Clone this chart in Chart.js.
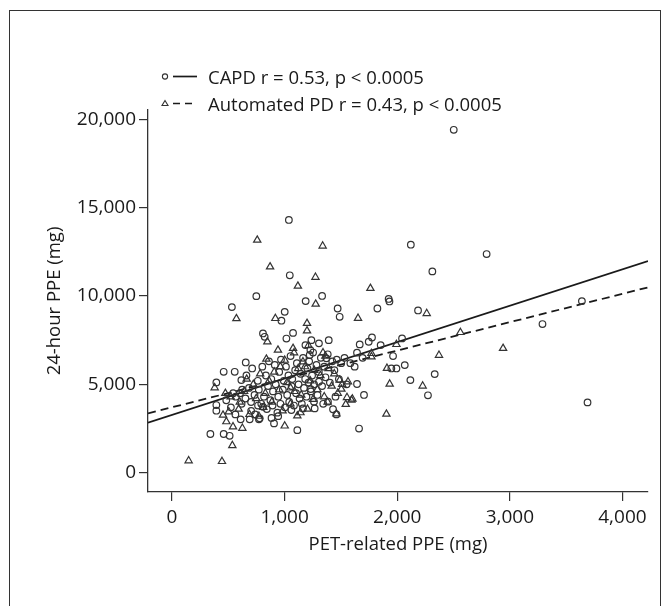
<!DOCTYPE html>
<html>
<head>
<meta charset="utf-8">
<script src="https://cdn.jsdelivr.net/npm/chart.js@4"></script>
<style>
  html, body { margin: 0; padding: 0; background: #fff; overflow: hidden; }
  #wrap { position: relative; width: 670px; height: 606px; }
  #frame { position: absolute; left: 9px; top: 10px; width: 650px; height: 640px;
           border: 1.5px solid #333; }
  #legend { position: absolute; left: 158px; top: 63px; font-family: "Open Sans", sans-serif;
            font-size: 18.5px; color: #1a1a1a; line-height: 27px; }
  #legend div { position: relative; padding-left: 50px; white-space: nowrap; }
  #legend svg { position: absolute; left: 0; top: 0; }
  canvas { position: absolute; left: 0; top: 0; }
</style>
</head>
<body>
<div id="wrap">
  <div id="frame"></div>
  <canvas id="ppeChart" width="670" height="606"></canvas>
  <div id="legend">
    <div><svg width="42" height="27"><circle cx="7" cy="13.5" r="2.6" fill="none" stroke="#333" stroke-width="1.1"/><line x1="15" y1="13.5" x2="39" y2="13.5" stroke="#1a1a1a" stroke-width="1.7"/></svg>CAPD r = 0.53, p &lt; 0.0005</div>
    <div><svg width="42" height="27"><path d="M7 10.5 L10 15.5 L4 15.5 Z" fill="none" stroke="#333" stroke-width="1.1"/><line x1="15" y1="13.5" x2="39" y2="13.5" stroke="#1a1a1a" stroke-width="1.7" stroke-dasharray="7,5"/></svg>Automated PD r = 0.43, p &lt; 0.0005</div>
  </div>
</div>
<script>
// PET-related PPE (mg) vs 24-hour PPE (mg)
const capdPoints = [
  [2502,19400],[1038,14300],[2121,12900],[2794,12370],[2312,11390],[1046,11170],[749,9990],[1333,10000],
  [1187,9710],[1924,9830],[1931,9690],[532,9370],[1001,9100],[972,8600],[1471,9290],[1489,8820],
  [1824,9290],[2185,9180],[3640,9710],[3290,8410],[3690,3980],[808,7880],[823,7690],[1075,7910],
  [1016,7590],[1392,7500],[1238,7500],[1305,7320],[1185,7220],[1229,6940],[1223,6660],[1371,6470],
  [1776,7650],[1747,7410],[1667,7260],[1853,7220],[2043,7600],[1643,6790],[1963,6600],[1948,5900],
  [1993,5900],[2067,6090],[2333,5580],[2117,5240],[2273,4380],[1643,5020],[1705,4400],[1661,2500],
  [1113,2410],[906,2790],[341,2190],[459,2190],[512,2090],[394,5110],[394,3830],[394,3510],
  [459,5710],[557,5710],[655,6240],[616,5240],[610,3020],[690,3020],[772,3020],[1232,4730],
  [1163,3640],[1267,3640],[1261,4020],[1385,4020],[1430,3590],[1460,3300],[1305,5150],[1060,3550],
  [808,3730],[779,3080],
  [482,4100],[523,3700],[566,4300],[604,4500],[618,3900],[652,4200],[661,5500],[684,4800],
  [703,3500],[712,5900],[733,4400],[738,3300],[762,5200],[771,4700],[793,3900],[802,6000],
  [817,4300],[834,5500],[842,3600],[853,4900],[861,6300],[874,4100],[882,5300],[893,3800],
  [897,4600],[913,6100],[921,5000],[936,3400],[944,4300],[952,5700],[963,3900],[968,6400],
  [984,4700],[993,5200],[1004,3700],[1012,6000],[1023,4400],[1034,5500],[1041,4000],[1053,6600],
  [1062,4900],[1068,5300],[1083,3800],[1094,5800],[1102,4500],[1109,6200],[1124,5000],[1133,4200],
  [1142,5600],[1153,3900],[1164,6500],[1172,4800],[1183,5300],[1194,4300],[1203,5900],[1212,5100],
  [1218,6300],[1233,4600],[1244,5500],[1253,6800],[1262,5000],[1283,6100],[1292,4400],[1304,5700],
  [1322,6500],[1333,4900],[1352,6000],[1363,5400],[1383,6700],[1402,5100],[1423,6300],[1442,5800],
  [1463,6400],[1482,5300],[1503,6200],[1532,6500],[1551,5000],[1584,6200],[1622,6000],[1693,6500],
  [943,3200],[884,3100],[764,3800],[702,4000],[623,4700],[563,3300],[543,4500],[1343,3900],[1452,4300]
];

const apdPoints = [
  [148,680],[444,640],[536,1540],[757,13160],[1338,12830],[871,11650],[1274,11060],[1118,10560],
  [1762,10430],[1276,9540],[572,8720],[918,8730],[1652,8740],[2262,9010],[1199,8450],[1199,8030],
  [847,7410],[2561,7940],[2940,7040],[2371,6650],[1993,7260],[1909,5910],[1933,5020],[2226,4910],
  [1904,3320],[379,4810],[474,4490],[453,3260],[504,3450],[483,2890],[542,2600],[625,2520],
  [1001,2650],[1113,3220],[1554,4260],[1593,4110],[1543,3870],[1252,4150],[1504,4730],[1563,5150],
  [1489,5240],[941,6940],[1075,7040],[1084,6790],[1341,6790],[838,6430],[1001,6370],[1163,6280],
  [1771,6750],[1771,6560],[1602,4170],[1460,3330],
  [521,4300],[592,3600],[641,4600],[688,3300],[722,5000],[748,4200],[783,5600],[811,3700],
  [829,4500],[862,5200],[887,4000],[908,5700],[953,4700],[982,3500],[1021,5100],[1052,3900],
  [1088,4600],[1121,5900],[1148,4400],[1182,6000],[1203,3600],[1228,5200],[1263,5800],[1291,4700],
  [1318,5500],[1352,4300],[1391,5900],[1418,4900],[1441,5600],[1472,4500],[1511,5000],[1362,6600],
  [1212,7200],[962,6000],[663,5300],[602,4000],[1053,4800],[1141,3400],[1382,4000],[772,3200]
];

// regression fits: intercept (mg) and slope
const capdFit = [3268, 2.06];
const apdFit = [3702, 1.605];

const xRange = [-213, 4227];
const yRange = [-1090, 20520];
const xTicks = [0, 1000, 2000, 3000, 4000];
const yTicks = [0, 5000, 10000, 15000, 20000];

function toXY(list) {
  return list.map(p => ({ x: p[0], y: p[1] }));
}
function fitLine(fit) {
  return xRange.map(x => ({ x: x, y: fit[0] + fit[1] * x }));
}

const ink = '#1a1a1a';
const tickFont = { family: 'Open Sans', size: 19 };
const titleFont = { family: 'Open Sans', size: 18.5 };

new Chart(document.getElementById('ppeChart'), {
  type: 'scatter',
  data: {
    datasets: [
      { data: toXY(capdPoints), pointStyle: 'circle', pointRadius: 3.3, borderColor: '#333',
        backgroundColor: 'rgba(0,0,0,0)', borderWidth: 1.2 },
      { data: toXY(apdPoints), pointStyle: 'triangle', pointRadius: 4.2, borderColor: '#333',
        backgroundColor: 'rgba(0,0,0,0)', borderWidth: 1.2 },
      { type: 'line', data: fitLine(capdFit), borderColor: '#1a1a1a', borderWidth: 1.8,
        pointRadius: 0, fill: false },
      { type: 'line', data: fitLine(apdFit), borderColor: '#1a1a1a', borderWidth: 1.8,
        borderDash: [8, 5], pointRadius: 0, fill: false }
    ]
  },
  options: {
    responsive: false,
    animation: false,
    layout: { padding: { left: 44, top: 110, right: 22, bottom: 50 } },
    plugins: { legend: { display: false }, tooltip: { enabled: false } },
    scales: {
      x: {
        type: 'linear', min: xRange[0], max: xRange[1],
        afterBuildTicks: s => { s.ticks = xTicks.map(v => ({ value: v })); },
        afterFit: s => { s.height = 64; },
        grid: { drawOnChartArea: false, drawTicks: true, tickLength: 9, color: '#333', lineWidth: 1.2 },
        border: { color: '#333', width: 1.3 },
        ticks: { color: ink, font: tickFont, padding: 5, maxRotation: 0,
                 callback: v => v.toLocaleString('en-US') },
        title: { display: true, text: 'PET-related PPE (mg)', color: ink, font: titleFont, padding: 0 }
      },
      y: {
        type: 'linear', min: yRange[0], max: yRange[1],
        afterBuildTicks: s => { s.ticks = yTicks.map(v => ({ value: v })); },
        afterFit: s => { s.width = 104; },
        grid: { drawOnChartArea: false, drawTicks: true, tickLength: 9, color: '#333', lineWidth: 1.2 },
        border: { color: '#333', width: 1.3 },
        ticks: { color: ink, font: tickFont, padding: 3,
                 callback: v => v.toLocaleString('en-US') },
        title: { display: true, text: '24-hour PPE (mg)', color: ink, font: titleFont, padding: 0 }
      }
    }
  }
});
</script>
</body>
</html>
